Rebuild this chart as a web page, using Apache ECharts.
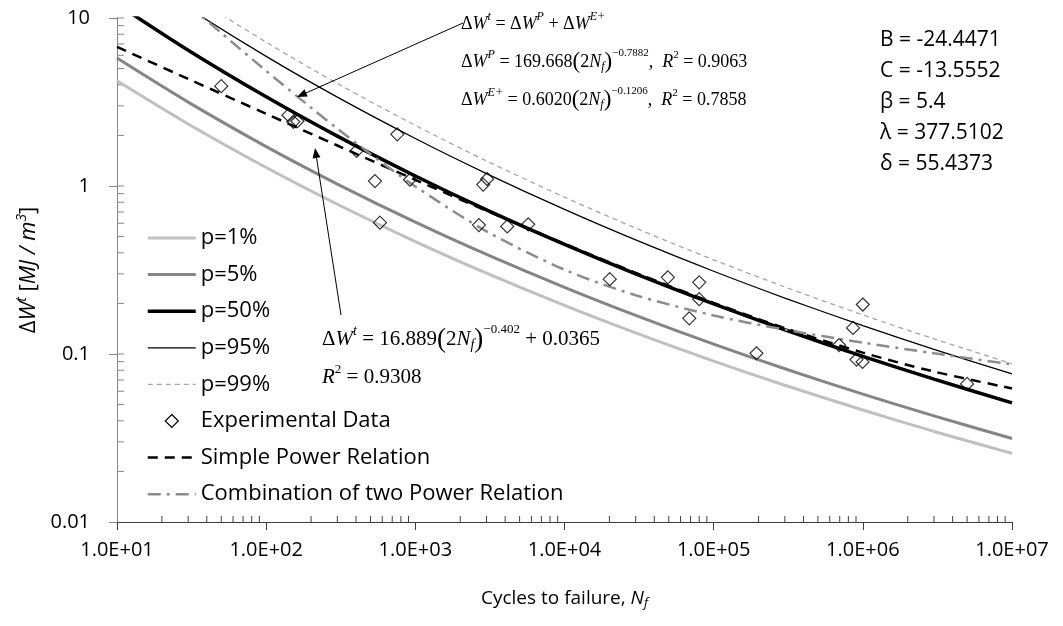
<!DOCTYPE html>
<html>
<head>
<meta charset="utf-8">
<script src="https://cdn.jsdelivr.net/npm/echarts@6/dist/echarts.min.js"></script>
<style>
  html, body { margin: 0; padding: 0; background: #fff; }
  #chart { width: 1063px; height: 626px; }
</style>
</head>
<body>
<div id="chart"></div>
<script>
// cycles used for the probability curves and the simple power fit
var nCurve = [10, 30, 100, 300, 1e3, 3e3, 1e4, 3e4, 1e5, 3e5, 1e6, 3e6, 1e7];
var p1 = [4.228, 2.340, 1.288, 0.7787, 0.4672, 0.3030, 0.1947, 0.1336, 0.0908, 0.0652, 0.0464, 0.0346, 0.0256];
var p5 = [5.773, 3.156, 1.716, 1.027, 0.6094, 0.3917, 0.2494, 0.1698, 0.1144, 0.0817, 0.0577, 0.0428, 0.0314];
var p50 = [12.11, 6.429, 3.394, 1.981, 1.147, 0.7213, 0.4494, 0.3002, 0.1986, 0.1394, 0.0968, 0.0708, 0.0512];
var p95 = [22.13, 11.47, 5.912, 3.382, 1.918, 1.186, 0.7256, 0.4775, 0.3109, 0.2154, 0.1475, 0.1066, 0.0762];
var p99 = [27.32, 14.04, 7.177, 4.076, 2.295, 1.410, 0.8578, 0.5615, 0.3637, 0.2507, 0.1709, 0.1230, 0.0876];
var simplePower = [6.729, 4.340, 2.689, 1.742, 1.088, 0.7123, 0.4530, 0.3043, 0.2015, 0.1426, 0.1019, 0.0786, 0.0624];

var nComb = [30, 50, 100, 200, 300, 500, 1e3, 3e3, 1e4, 3e4, 1e5, 3e5, 1e6, 3e6, 1e7];
var combPower = [12.02, 8.147, 4.845, 2.924, 2.196, 1.550, 0.9942, 0.5375, 0.3176, 0.2239, 0.1696, 0.1397, 0.1169, 0.1010, 0.0867];

var expN = [50, 141, 152, 162, 404, 757, 536, 920, 579, 2850, 3030, 2670, 4130, 5710,
  20100, 49300, 80000, 80000, 68600, 193600, 1.0e6, 860000, 693000, 907000, 995000, 5.0e6];
var expW = [3.93, 2.64, 2.41, 2.43, 1.62, 2.03, 1.07, 1.09, 0.605, 1.02, 1.10, 0.585, 0.575, 0.591,
  0.279, 0.286, 0.267, 0.212, 0.163, 0.101, 0.197, 0.143, 0.113, 0.0926, 0.0897, 0.0664];

var xTickLabels = ['1.0E+01', '1.0E+02', '1.0E+03', '1.0E+04', '1.0E+05', '1.0E+06', '1.0E+07'];
var yTickLabels = ['0.01', '0.1', '1', '10'];
var minorSteps = [2, 3, 4, 5, 6, 7, 8, 9];

var legendNames = ['p=1%', 'p=5%', 'p=50%', 'p=95%', 'p=99%', 'Experimental Data',
  'Simple Power Relation', 'Combination of two Power Relation'];
var paramLines = ['B = -24.4471', 'C = -13.5552', 'β = 5.4', 'λ = 377.5102', 'δ = 55.4373'];

function pairs(xs, ys) {
  return xs.map(function (x, i) { return [x, ys[i]]; });
}

var xMinor = [], yMinor = [];
[10, 100, 1e3, 1e4, 1e5, 1e6].forEach(function (d) {
  minorSteps.forEach(function (m) { xMinor.push([d * m, 0.01]); });
});
[0.01, 0.1, 1].forEach(function (d) {
  minorSteps.forEach(function (m) { yMinor.push([10, d * m]); });
});
yMinor.push([10, 0.1], [10, 1], [10, 10]);

var sans = "'Open Sans', 'Liberation Sans', sans-serif";
var serif = "'Liberation Serif', 'DejaVu Serif', serif";

function lineSeries(name, xs, ys, color, width, type) {
  return {
    name: name,
    type: 'line',
    data: pairs(xs, ys),
    symbol: 'none',
    smooth: 0.3,
    lineStyle: { color: color, width: width, type: type || 'solid' },
    itemStyle: { color: color },
    z: 2
  };
}

function eqRich(s) {
  var small = Math.round(s * 0.6);
  return {
    n: { fontFamily: serif, fontSize: s, fill: '#000', verticalAlign: 'middle' },
    d: { fontFamily: serif, fontSize: s, fill: '#000', verticalAlign: 'middle' },
    i: { fontFamily: serif, fontSize: s, fontStyle: 'italic', fill: '#000', verticalAlign: 'middle' },
    p: { fontFamily: serif, fontSize: Math.round(s * 1.28), fill: '#000', verticalAlign: 'middle' },
    sup: { fontFamily: serif, fontSize: small + 1, fontStyle: 'italic', fill: '#000', padding: [0, 0, Math.round(s * 0.75), 0], verticalAlign: 'middle' },
    supn: { fontFamily: serif, fontSize: small, fill: '#000', padding: [0, 0, Math.round(s * 0.95), 0], verticalAlign: 'middle' },
    sq: { fontFamily: serif, fontSize: small, fill: '#000', padding: [0, 0, Math.round(s * 0.75), 0], verticalAlign: 'middle' },
    sub: { fontFamily: serif, fontSize: small + 1, fontStyle: 'italic', fill: '#000', padding: [Math.round(s * 0.55), 0, 0, 0], verticalAlign: 'middle' }
  };
}

function eqText(left, top, size, text) {
  return {
    type: 'text', left: left, top: top, z: 10,
    style: { text: text, rich: eqRich(size), fill: '#000' }
  };
}

function arrow(x1, y1, x2, y2) {
  var dx = x2 - x1, dy = y2 - y1, len = Math.sqrt(dx * dx + dy * dy);
  var ux = dx / len, uy = dy / len;
  var bx = x2 - 10 * ux, by = y2 - 10 * uy;
  return [{
    type: 'line', z: 10,
    shape: { x1: x1, y1: y1, x2: bx, y2: by },
    style: { stroke: '#000', lineWidth: 1 }
  }, {
    type: 'polygon', z: 10,
    shape: { points: [[x2, y2], [bx + 4 * uy, by - 4 * ux], [bx - 4 * uy, by + 4 * ux]] },
    style: { fill: '#000' }
  }];
}

var graphics = []
  .concat(arrow(463, 23, 297, 97))
  .concat(arrow(341, 315, 315, 148))
  .concat([
    eqText(461, 11, 18, '{d|Δ}{i|W}{sup|t}{n| = Δ}{i|W}{sup|P}{n| + Δ}{i|W}{sup|E+}'),
    eqText(461, 48, 18, '{d|Δ}{i|W}{sup|P}{n| = 169.668}{p|(}{n|2}{i|N}{sub|f}{p|)}{supn|−0.7882}{n|,  }{i|R}{sq|2}{n| = 0.9063}'),
    eqText(461, 86, 18, '{d|Δ}{i|W}{sup|E+}{n| = 0.6020}{p|(}{n|2}{i|N}{sub|f}{p|)}{supn|−0.1206}{n|,  }{i|R}{sq|2}{n| = 0.7858}'),
    eqText(322, 323, 21, '{d|Δ}{i|W}{sup|t}{n| = 16.889}{p|(}{n|2}{i|N}{sub|f}{p|)}{supn|−0.402}{n| + 0.0365}'),
    eqText(322, 363, 21, '{i|R}{sq|2}{n| = 0.9308}')
  ]);

paramLines.forEach(function (t, i) {
  graphics.push({
    type: 'text', left: 880, top: 30 + i * 30.8, z: 10,
    style: { text: t, fontFamily: sans, fontSize: 21, fill: '#000' }
  });
});

var legendData = legendNames.map(function (name) {
  if (name === 'Experimental Data') {
    return {
      name: name,
      icon: 'path://M0,-6L6,0L0,6L-6,0Z',
      itemStyle: { opacity: 1, borderWidth: 1.2, borderColor: '#000', color: 'rgba(255,255,255,0)' }
    };
  }
  return { name: name };
});

var chart = echarts.init(document.getElementById('chart'));
var option = {
  animation: false,
  backgroundColor: '#fff',
  grid: { left: 117, right: 51, top: 18, bottom: 104, containLabel: false },
  legend: {
    data: legendData,
    orient: 'vertical',
    left: 146,
    top: 227,
    padding: 0,
    itemWidth: 48,
    itemHeight: 13,
    itemGap: 14.6,
    selectedMode: false,
    symbolKeepAspect: true,
    itemStyle: { opacity: 0 },
    lineStyle: { width: 'inherit' },
    textStyle: { fontFamily: sans, fontSize: 22, color: '#000', lineHeight: 22 }
  },
  xAxis: {
    type: 'log',
    logBase: 10,
    min: 10,
    max: 1e7,
    name: 'Cycles to failure, {i|N}{sub|f}',
    nameLocation: 'middle',
    nameGap: 66,
    nameTextStyle: {
      fontFamily: sans, fontSize: 19, color: '#000',
      rich: {
        i: { fontFamily: sans, fontSize: 19, fontStyle: 'italic', color: '#000' },
        sub: { fontFamily: sans, fontSize: 13, fontStyle: 'italic', color: '#000', padding: [9, 0, 0, 0] }
      }
    },
    axisLine: { lineStyle: { color: '#404040', width: 1 } },
    axisTick: { show: true, inside: false, length: 8, lineStyle: { color: '#404040' } },
    axisLabel: {
      margin: 18,
      fontFamily: sans,
      fontSize: 20,
      color: '#000',
      formatter: function (v) {
        return xTickLabels[Math.round(Math.log10(v)) - 1] || '';
      }
    },
    splitLine: { show: false }
  },
  yAxis: {
    type: 'log',
    logBase: 10,
    min: 0.01,
    max: 10,
    name: '{d|Δ}{i|W}{sup|t}{n| [}{i|MJ / m}{sup|3}{n|]}',
    nameLocation: 'middle',
    nameGap: 74,
    nameTextStyle: {
      fontFamily: sans, fontSize: 22, color: '#000',
      rich: {
        d: { fontFamily: sans, fontSize: 22, color: '#000' },
        n: { fontFamily: sans, fontSize: 22, color: '#000' },
        i: { fontFamily: sans, fontSize: 22, fontStyle: 'italic', color: '#000' },
        sup: { fontFamily: sans, fontSize: 14, fontStyle: 'italic', color: '#000', padding: [0, 0, 14, 0] }
      }
    },
    axisLine: { lineStyle: { color: '#868686', width: 1 } },
    axisTick: { show: true, inside: false, length: 8, lineStyle: { color: '#868686' } },
    axisLabel: {
      margin: 27,
      fontFamily: sans,
      fontSize: 20,
      color: '#000',
      formatter: function (v) {
        return yTickLabels[Math.round(Math.log10(v)) + 2] || '';
      }
    },
    splitLine: { show: false }
  },
  graphic: graphics,
  series: [
    lineSeries('p=1%', nCurve, p1, '#c0c0c0', 3),
    lineSeries('p=5%', nCurve, p5, '#858585', 3),
    lineSeries('p=50%', nCurve, p50, '#000000', 3.5),
    lineSeries('p=95%', nCurve, p95, '#000000', 1.3),
    lineSeries('p=99%', nCurve, p99, '#a6a6a6', 1.3, [5, 4]),
    {
      name: 'Experimental Data',
      type: 'scatter',
      symbol: 'diamond',
      symbolSize: 13,
      data: pairs(expN, expW),
      itemStyle: { color: 'rgba(255,255,255,0)', borderColor: '#000', borderWidth: 1.2 },
      z: 5
    },
    lineSeries('Simple Power Relation', nCurve, simplePower, '#000000', 2.5, [10, 7]),
    lineSeries('Combination of two Power Relation', nComb, combPower, '#8c8c8c', 2.5, [13, 6, 3, 6]),
    {
      type: 'custom',
      name: 'xMinorTicks',
      silent: true,
      data: xMinor,
      renderItem: function (params, api) {
        var p = api.coord([api.value(0), api.value(1)]);
        return { type: 'line', shape: { x1: p[0], y1: p[1], x2: p[0], y2: p[1] - 6 }, style: { stroke: '#404040', lineWidth: 1 } };
      },
      z: 1
    },
    {
      type: 'custom',
      name: 'yMinorTicks',
      silent: true,
      data: yMinor,
      renderItem: function (params, api) {
        var p = api.coord([api.value(0), api.value(1)]);
        return { type: 'line', shape: { x1: p[0], y1: p[1], x2: p[0] + 7, y2: p[1] }, style: { stroke: '#868686', lineWidth: 1 } };
      },
      z: 1
    }
  ]
};
chart.setOption(option);
</script>
</body>
</html>
